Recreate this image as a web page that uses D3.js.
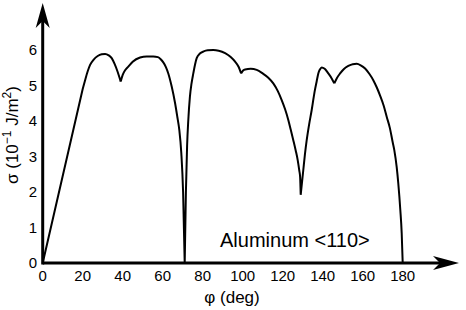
<!DOCTYPE html>
<html>
<head>
<meta charset="utf-8">
<script src="https://cdn.jsdelivr.net/npm/d3@7"></script>
<style>
  body { margin: 0; background: #fff; }
  text { font-family: "Liberation Sans", Arial, sans-serif; fill: #000; }
</style>
</head>
<body>
<svg width="466" height="310"></svg>
<script>
// angle (deg) and energy (10^-1 J/m^2)
var phi = [0, 20, 21.2, 22.5, 23.7, 25.5, 27.5, 29.5, 31.2, 33, 34.5, 36, 37.5, 39,
  40, 41.2, 42.8, 45, 48.7, 52, 55.3, 57.6, 59, 60.3, 61.6, 62.8, 64.5, 66.2, 67.3, 68.3, 69.3, 70.2, 71,
  71.6, 72.2, 72.8, 73.6, 74.4, 75.3, 76.2, 77, 78.6, 80.5, 82.5, 85.3, 88, 91.2, 94, 96.2, 98, 99.2,
  100.2, 101.2, 104, 107, 110, 112.8, 115.3, 117.5, 119.5, 121.2, 122.8, 124, 125.3, 126.5, 127.5, 128.3, 128.7, 129,
  130.3, 131.1, 132, 133.2, 134.5, 135.3, 136.1, 137, 137.8, 138.6, 139.5, 141, 142.8, 144.5, 145.8,
  147, 148.7, 150.5, 152.8, 155, 157, 159, 161.2, 163.3, 165.3, 167, 168.6, 170.5, 172, 173.6,
  175, 175.8, 177, 177.8, 178.8, 179.5, 180];
var sigma = [0, 4.9, 5.15, 5.4, 5.58, 5.73, 5.83, 5.88, 5.89, 5.85, 5.77, 5.6, 5.38, 5.11,
  5.3, 5.43, 5.53, 5.67, 5.79, 5.82, 5.82, 5.8, 5.74, 5.65, 5.52, 5.34, 4.97, 4.5, 4.12, 3.75, 3.1, 2.0, 0,
  2.0, 3.3, 4.03, 4.68, 5.05, 5.34, 5.6, 5.77, 5.9, 5.96, 5.99, 6.0, 5.98, 5.91, 5.8, 5.67, 5.52, 5.34,
  5.42, 5.45, 5.47, 5.44, 5.34, 5.22, 5.06, 4.85, 4.59, 4.33, 4.03, 3.76, 3.46, 3.17, 2.9, 2.6, 2.43, 1.92,
  2.62, 3.05, 3.46, 3.9, 4.31, 4.6, 4.87, 5.12, 5.34, 5.45, 5.51, 5.47, 5.34, 5.2, 5.06,
  5.2, 5.34, 5.46, 5.55, 5.6, 5.61, 5.57, 5.48, 5.33, 5.15, 4.95, 4.73, 4.43, 4.12, 3.8,
  3.4, 3.18, 2.7, 2.24, 1.5, 0.84, 0];
// cusp angles where the curve has a sharp corner
var cusps = [20, 39, 71, 99.2, 129, 145.8];
var xTicks = [0, 20, 40, 60, 80, 100, 120, 140, 160, 180];
var yTicks = [0, 1, 2, 3, 4, 5, 6];

var svg = d3.select("svg");

var x = d3.scaleLinear().domain([0, 180]).range([42.7, 402.7]);
var y = d3.scaleLinear().domain([0, 6]).range([263, 50]);

var data = phi.map(function(p, i) { return [p, sigma[i]]; });

// split the curve at the cusps so each piece is smooth
var pieces = [], cur = [];
data.forEach(function(d) {
  cur.push(d);
  if (cusps.indexOf(d[0]) >= 0) { pieces.push(cur); cur = [d]; }
});
pieces.push(cur);

var line = d3.line()
  .x(function(d) { return x(d[0]); })
  .y(function(d) { return y(d[1]); })
  .curve(d3.curveMonotoneX);

svg.append("path")
  .attr("fill", "none")
  .attr("stroke", "#000")
  .attr("stroke-width", 2)
  .attr("stroke-linejoin", "round")
  .attr("d", pieces.map(function(p) { return line(p); }).join(""));

// axes lines with arrows
var x0 = x(0), y0 = y(0);
svg.append("line")
  .attr("x1", x0).attr("y1", y0).attr("x2", 450).attr("y2", y0)
  .attr("stroke", "#000").attr("stroke-width", 3);
svg.append("line")
  .attr("x1", x0).attr("y1", y0 + 1.5).attr("x2", x0).attr("y2", 14)
  .attr("stroke", "#000").attr("stroke-width", 3);

// arrowheads
svg.append("path")
  .attr("d", "M459," + y0 + " L433," + (y0 - 7) + " L440," + y0 + " L433," + (y0 + 7) + " Z")
  .attr("fill", "#000");
svg.append("path")
  .attr("d", "M" + x0 + ",3 L" + (x0 - 7) + ",28 L" + x0 + ",21 L" + (x0 + 7) + ",28 Z")
  .attr("fill", "#000");

// tick labels
svg.selectAll(".xt")
  .data(xTicks)
  .enter().append("text")
  .attr("x", function(d) { return x(d); })
  .attr("y", 281)
  .attr("text-anchor", "middle")
  .attr("font-size", 15)
  .text(function(d) { return d; });

svg.selectAll(".yt")
  .data(yTicks)
  .enter().append("text")
  .attr("x", 37)
  .attr("y", function(d) { return y(d) + 5; })
  .attr("text-anchor", "end")
  .attr("font-size", 15)
  .text(function(d) { return d; });

// titles
svg.append("text")
  .attr("x", 232).attr("y", 303)
  .attr("text-anchor", "middle")
  .attr("font-size", 17)
  .text("φ (deg)");

var yt = svg.append("text")
  .attr("transform", "translate(18,135) rotate(-90)")
  .attr("text-anchor", "middle")
  .attr("font-size", 17);
yt.append("tspan").text("σ (10");
yt.append("tspan").attr("dy", -7).attr("font-size", 12).text("−1");
yt.append("tspan").attr("dy", 7).text(" J/m");
yt.append("tspan").attr("dy", -7).attr("font-size", 12).text("2");
yt.append("tspan").attr("dy", 7).text(")");

svg.append("text")
  .attr("x", 220).attr("y", 247)
  .attr("font-size", 20)
  .text("Aluminum <110>");
</script>
</body>
</html>
